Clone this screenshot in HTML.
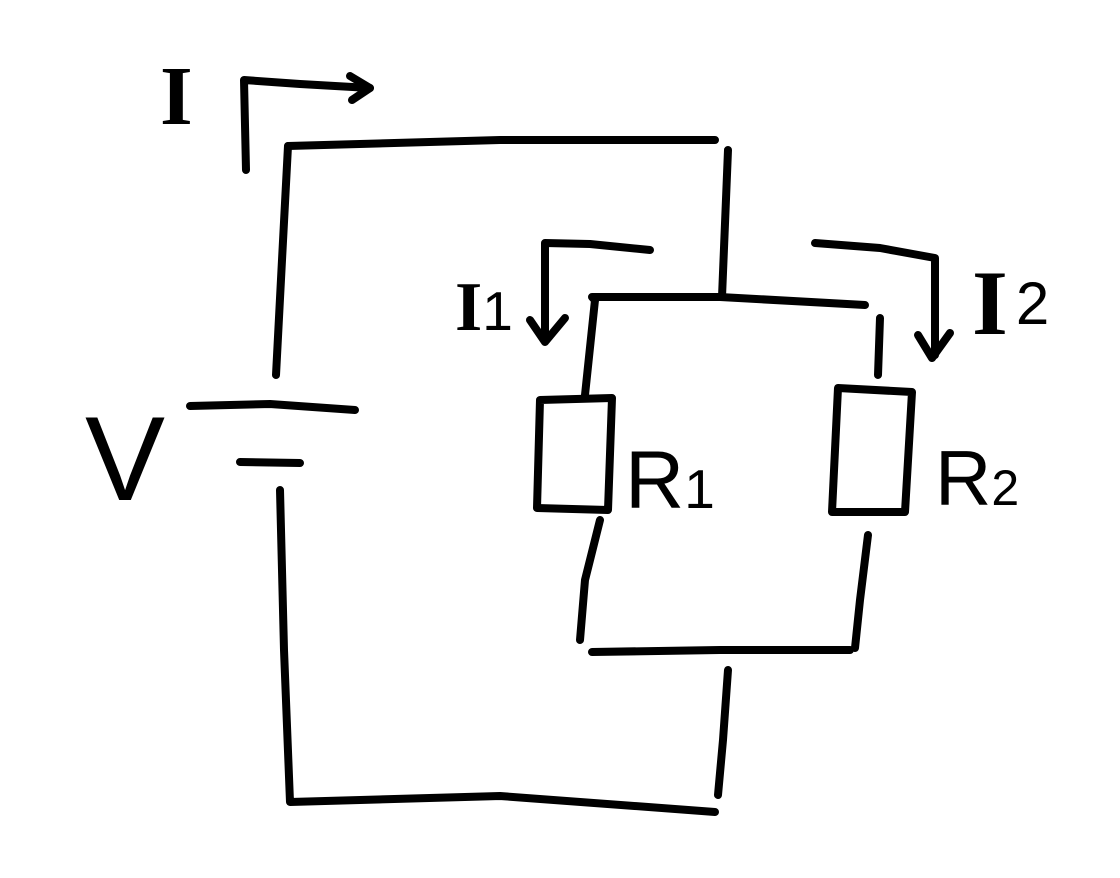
<!DOCTYPE html>
<html><head><meta charset="utf-8"><style>
html,body{margin:0;padding:0;background:#fff;}
svg{display:block}
text{font-family:"Liberation Sans",sans-serif;fill:#000;}
.s{font-family:"Liberation Serif",serif;}
</style></head><body>
<svg width="1120" height="878" viewBox="0 0 1120 878" xmlns="http://www.w3.org/2000/svg">
<g fill="none" stroke="#000" stroke-width="8" stroke-linecap="round" stroke-linejoin="round">
<path d="M246 170 L244 80 L300 84 L370 88"/>
<path d="M350 76 L370 88 L352 100"/>
<path d="M288 146 L500 140 L715 140"/>
<path d="M288 146 L282 260 L276 375"/>
<path d="M190 406 L270 404 L355 410"/>
<path d="M240 462 L300 463"/>
<path d="M280 490 L284 650 L290 802 L500 796 L715 812"/>
<path d="M728 150 L722 297"/>
<path d="M728 670 L723 740 L718 795"/>
<path d="M595 300 L592 297 L720 297 L865 305"/>
<path d="M595 300 L585 395"/>
<path d="M540 400 L612 398 L608 510 L537 508 Z"/>
<path d="M600 520 L585 580 L580 640"/>
<path d="M592 652 L720 650 L850 650"/>
<path d="M880 318 L878 375"/>
<path d="M838 388 L912 392 L905 512 L832 512 Z"/>
<path d="M868 535 L860 600 L855 648"/>
<path d="M650 250 L590 244 L545 243 L545 340"/>
<path d="M530 320 L545 342 L565 318"/>
<path d="M815 243 L880 248 L935 258 L935 355"/>
<path d="M918 335 L932 358 L950 333"/>
</g>
<text class="s" x="160" y="124" font-size="84" font-weight="bold">I</text>
<text x="455" y="330" font-size="70"><tspan class="s" font-weight="bold">I</tspan><tspan font-size="55">1</tspan></text>
<text x="972" y="334" font-size="92"><tspan class="s" font-weight="bold">I</tspan><tspan font-size="60" dx="8" dy="-10">2</tspan></text>
<text x="85" y="500" font-size="120">V</text>
<text x="625" y="508" font-size="82">R<tspan font-size="55">1</tspan></text>
<text x="935" y="505" font-size="78">R<tspan font-size="50">2</tspan></text>
</svg>
</body></html>
